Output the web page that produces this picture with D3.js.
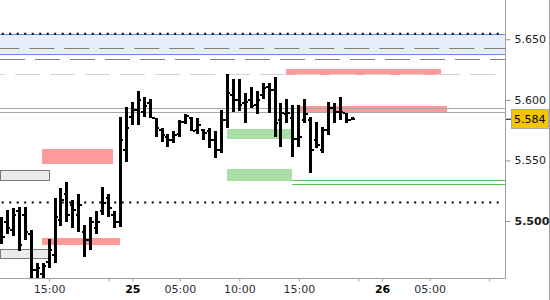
<!DOCTYPE html>
<html>
<head>
<meta charset="utf-8">
<script src="https://cdn.jsdelivr.net/npm/d3@7"></script>
<style>
body { margin: 0; background: #fff; }
svg { display: block; }
</style>
</head>
<body>
<div id="mainDiv"></div>
<script>
'use strict';

// 30 minute bars, index 0 = first visible bar
var opens  = [5.497, 5.499, 5.493, 5.508, 5.505, 5.489, 5.460, 5.456, 5.466, 5.472,
              5.501, 5.522, 5.513, 5.505, 5.491, 5.484, 5.494, 5.508, 5.519, 5.505,
              5.499, 5.559, 5.586, 5.592, 5.590, 5.597, 5.585, 5.575, 5.569, 5.567,
              5.572, 5.582, 5.585, 5.575, 5.575, 5.574, 5.567, 5.559, 5.583, 5.604,
              5.600, 5.597, 5.600, 5.596, 5.604, 5.611, 5.608, 5.583, 5.588, 5.585,
              5.568, 5.583, 5.583, 5.567, 5.559, 5.575, 5.593, 5.590, 5.589, 5.583];
var highs  = [5.503, 5.509, 5.511, 5.512, 5.512, 5.493, 5.465, 5.465, 5.485, 5.519,
              5.527, 5.532, 5.517, 5.522, 5.497, 5.503, 5.508, 5.528, 5.522, 5.508,
              5.586, 5.594, 5.598, 5.607, 5.602, 5.601, 5.585, 5.577, 5.572, 5.574,
              5.583, 5.588, 5.586, 5.585, 5.576, 5.577, 5.574, 5.592, 5.621, 5.617,
              5.617, 5.606, 5.611, 5.607, 5.614, 5.614, 5.619, 5.597, 5.601, 5.596,
              5.596, 5.601, 5.586, 5.582, 5.578, 5.598, 5.597, 5.602, 5.589, 5.586];
var lows   = [5.481, 5.489, 5.488, 5.475, 5.484, 5.453, 5.453, 5.453, 5.461, 5.465,
              5.496, 5.499, 5.494, 5.491, 5.470, 5.476, 5.489, 5.505, 5.503, 5.494,
              5.495, 5.549, 5.579, 5.579, 5.586, 5.585, 5.569, 5.565, 5.561, 5.564,
              5.569, 5.580, 5.574, 5.572, 5.567, 5.560, 5.552, 5.556, 5.577, 5.590,
              5.591, 5.581, 5.593, 5.588, 5.601, 5.589, 5.569, 5.561, 5.581, 5.553,
              5.561, 5.581, 5.540, 5.560, 5.556, 5.571, 5.581, 5.583, 5.581, 5.583];
var closes = [5.487, 5.494, 5.505, 5.480, 5.491, 5.460, 5.461, 5.463, 5.476, 5.503,
              5.517, 5.505, 5.509, 5.513, 5.484, 5.499, 5.499, 5.515, 5.511, 5.499,
              5.567, 5.577, 5.592, 5.600, 5.595, 5.585, 5.577, 5.571, 5.567, 5.571,
              5.582, 5.587, 5.574, 5.579, 5.573, 5.567, 5.559, 5.583, 5.606, 5.600,
              5.596, 5.598, 5.595, 5.600, 5.610, 5.608, 5.581, 5.589, 5.589, 5.568,
              5.569, 5.588, 5.559, 5.563, 5.575, 5.593, 5.590, 5.590, 5.583, 5.584];

var lastPrice = 5.584;

// time axis, positions in bar index
var timeTicks  = [8, 18, 22, 30, 40, 50, 60, 64, 72, 82];
var timeLabels = ['15:00', '', '25', '05:00', '10:00', '15:00', '', '26', '05:00', ''];
var dayLabels  = ['25', '26'];

var priceTicks = [5.500, 5.550, 5.600, 5.650];

// zones: [from bar, to bar, top price, bottom price]
var supplyZones = [[47.85, 73.9, 5.6255, 5.6205],
                   [50.2, 74.9, 5.5950, 5.5898],
                   [6.8, 18.75, 5.5595, 5.5471],
                   [6.8, 19.9, 5.4860, 5.4803]];
var demandZones = [[37.9, 48.9, 5.5760, 5.5677],
                   [37.9, 48.9, 5.5430, 5.5333]];
var oldZones    = [[-1, 8.1, 5.5419, 5.5334],
                   [-1, 8.1, 5.4768, 5.4690]];
var blueZone    = [5.6540, 5.6380];

// horizontal levels
var greenLines  = [[48.9, 5.5339], [48.9, 5.5309]];
var greyLines   = [5.5931, 5.5898];
var dashLines   = [5.6426, 5.6335];
var lightDash   = [5.6214];
var dotLines    = [5.6546, 5.5152];

var myApp = {};

myApp.W = 550;
myApp.H = 300;
myApp.plotR = 505;
myApp.plotB = 278;

myApp.run = function()
{
    var svg = d3.select('#mainDiv').append('svg')
        .attr('width', myApp.W)
        .attr('height', myApp.H);

    var x = d3.scaleLinear().domain([0, 82]).range([1.5, 489.1]);
    var y = d3.scaleLinear().domain([5.453, 5.6824]).range([myApp.plotB, 0]);

    var plot = svg.append('g');

    plot.append('defs').append('clipPath').attr('id', 'clip')
        .append('rect').attr('width', myApp.plotR).attr('height', myApp.plotB);

    var g = plot.append('g').attr('clip-path', 'url(#clip)');

    // blue zone on top
    g.append('rect')
        .attr('x', 0).attr('width', myApp.plotR)
        .attr('y', y(blueZone[0])).attr('height', y(blueZone[1]) - y(blueZone[0]))
        .attr('fill', '#e7edfc');
    g.selectAll('.bz').data(blueZone).enter().append('line')
        .attr('x1', 0).attr('x2', myApp.plotR)
        .attr('y1', function(d){ return Math.round(y(d)) + 0.5; })
        .attr('y2', function(d){ return Math.round(y(d)) + 0.5; })
        .attr('stroke', '#5b8ef0').attr('stroke-width', 1);

    g.selectAll('.dash').data(dashLines).enter().append('line')
        .attr('x1', 0).attr('x2', myApp.plotR)
        .attr('y1', function(d){ return Math.round(y(d)) + 0.5; })
        .attr('y2', function(d){ return Math.round(y(d)) + 0.5; })
        .attr('stroke', '#7f7f7f')
        .attr('stroke-dasharray', '25,10')
        .attr('stroke-dashoffset', function(d, i){ return i === 0 ? 5.7 : 0; });

    // zones
    function zones(data, fill, stroke)
    {
        g.selectAll(null).data(data).enter().append('rect')
            .attr('x', function(d){ return Math.max(0, x(d[0])); })
            .attr('width', function(d){ return x(d[1]) - Math.max(0, x(d[0])); })
            .attr('y', function(d){ return y(d[2]); })
            .attr('height', function(d){ return y(d[3]) - y(d[2]); })
            .attr('fill', fill)
            .attr('stroke', stroke || 'none')
            .attr('shape-rendering', 'crispEdges');
    }
    zones(supplyZones, '#fd9a9a');
    zones(demandZones, '#a9dea6');
    zones(oldZones, '#ebebeb', '#7a7a7a');

    g.selectAll('.ld').data(lightDash).enter().append('line')
        .attr('x1', 0).attr('x2', 495)
        .attr('y1', function(d){ return Math.round(y(d)) + 0.5; })
        .attr('y2', function(d){ return Math.round(y(d)) + 0.5; })
        .attr('stroke', '#d4d4d4')
        .attr('stroke-dasharray', '25,10')
        .attr('stroke-dashoffset', 20);

    g.selectAll('.gl').data(greyLines).enter().append('line')
        .attr('x1', 0).attr('x2', myApp.plotR)
        .attr('y1', function(d){ return Math.round(y(d)) + 0.5; })
        .attr('y2', function(d){ return Math.round(y(d)) + 0.5; })
        .attr('stroke', '#a6a6a6');

    g.selectAll('.gr').data(greenLines).enter().append('line')
        .attr('x1', function(d){ return x(d[0]); }).attr('x2', myApp.plotR)
        .attr('y1', function(d){ return Math.round(y(d[1])) + 0.5; })
        .attr('y2', function(d){ return Math.round(y(d[1])) + 0.5; })
        .attr('stroke', '#4cc24c');

    g.selectAll('.dot').data(dotLines).enter().append('line')
        .attr('x1', 0).attr('x2', 499)
        .attr('y1', function(d){ return y(d); })
        .attr('y2', function(d){ return y(d); })
        .attr('stroke', '#000').attr('stroke-width', 2)
        .attr('stroke-dasharray', '2,5.5')
        .attr('stroke-dashoffset', -1.7);

    // OHLC bars
    var idx = d3.range(closes.length);
    var bars = g.append('g').attr('shape-rendering', 'crispEdges');

    bars.selectAll('.hl').data(idx).enter().append('rect')
        .attr('x', function(i){ return x(i) - 1.5; })
        .attr('width', 3)
        .attr('y', function(i){ return y(highs[i]); })
        .attr('height', function(i){ return Math.max(2, y(lows[i]) - y(highs[i])); })
        .attr('fill', '#000');
    bars.selectAll('.op').data(idx).enter().append('rect')
        .attr('x', function(i){ return x(i) - 3; })
        .attr('width', 1.5)
        .attr('y', function(i){ return y(opens[i]) - 1; })
        .attr('height', 2)
        .attr('fill', '#000');
    bars.selectAll('.cl').data(idx).enter().append('rect')
        .attr('x', function(i){ return x(i) + 1.5; })
        .attr('width', 1.5)
        .attr('y', function(i){ return y(closes[i]) - 1; })
        .attr('height', 2)
        .attr('fill', '#000');

    // frame
    svg.append('line').attr('x1', myApp.plotR + 0.5).attr('x2', myApp.plotR + 0.5)
        .attr('y1', 0).attr('y2', myApp.plotB + 0.5).attr('stroke', '#a0a0a0');
    svg.append('line').attr('x1', 0).attr('x2', myApp.plotR + 0.5)
        .attr('y1', myApp.plotB + 0.5).attr('y2', myApp.plotB + 0.5).attr('stroke', '#a0a0a0');
    svg.append('line').attr('x1', myApp.W - 0.5).attr('x2', myApp.W - 0.5)
        .attr('y1', 0).attr('y2', myApp.H).attr('stroke', '#a0a0a0');

    // price axis
    var yAxis = svg.append('g')
        .attr('transform', 'translate(' + (myApp.plotR + 0.5) + ',0)')
        .call(d3.axisRight(y).tickValues(priceTicks).tickFormat(d3.format('.3f'))
              .tickSize(5).tickPadding(4));
    yAxis.select('.domain').remove();
    yAxis.selectAll('line').attr('stroke', '#909090');
    yAxis.selectAll('text')
        .attr('fill', '#1c1c1c')
        .style('font', '11px "DejaVu Sans", sans-serif')
        .style('font-weight', function(d){ return d === 5.5 ? 'bold' : 'normal'; });

    // last price marker
    var ly = y(lastPrice);
    svg.append('line').attr('x1', myApp.plotR + 1).attr('x2', myApp.plotR + 6)
        .attr('y1', ly).attr('y2', ly).attr('stroke', '#000');
    svg.append('rect')
        .attr('x', 511.5).attr('y', Math.round(ly) - 9.5)
        .attr('width', 37).attr('height', 19)
        .attr('fill', '#f6c500').attr('stroke', '#a8a8a8');
    svg.append('text')
        .attr('x', 514).attr('y', ly + 4)
        .attr('fill', '#000')
        .style('font', '11px "DejaVu Sans", sans-serif')
        .text(d3.format('.3f')(lastPrice));

    // time axis
    var xAxis = svg.append('g')
        .attr('transform', 'translate(0,' + (myApp.plotB + 0.5) + ')')
        .call(d3.axisBottom(x).tickValues(timeTicks)
              .tickFormat(function(d, i){ return timeLabels[i]; })
              .tickSize(3).tickPadding(4));
    xAxis.select('.domain').remove();
    xAxis.selectAll('line').attr('stroke', '#a0a0a0');
    xAxis.selectAll('text')
        .attr('fill', function(d, i){ return dayLabels.indexOf(timeLabels[i]) >= 0 ? '#000' : '#2b2b3a'; })
        .style('font', '11px "DejaVu Sans", sans-serif')
        .style('font-weight', function(d, i){ return dayLabels.indexOf(timeLabels[i]) >= 0 ? 'bold' : 'normal'; });
}

myApp.run();
</script>
</body>
</html>
